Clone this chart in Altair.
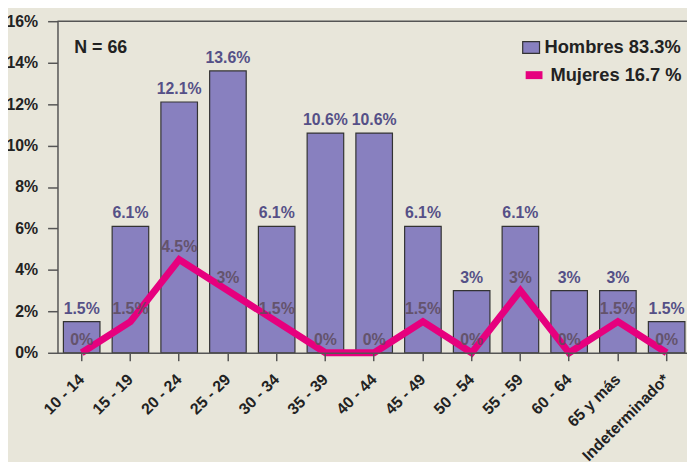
import altair as alt
import pandas as pd

categories = ["10 - 14", "15 - 19", "20 - 24", "25 - 29", "30 - 34", "35 - 39",
              "40 - 44", "45 - 49", "50 - 54", "55 - 59", "60 - 64", "65 y más",
              "Indeterminado*"]
hombres = [1.5, 6.1, 12.1, 13.6, 6.1, 10.6, 10.6, 6.1, 3, 6.1, 3, 3, 1.5]
mujeres = [0, 1.5, 4.5, 3, 1.5, 0, 0, 1.5, 0, 3, 0, 1.5, 0]
series_names = ["Hombres 83.3%", "Mujeres 16.7 %"]
y_ticks = [0, 2, 4, 6, 8, 10, 12, 14, 16]
note = "N = 66"

BG = "#e8e6da"
PURPLE = "#8880bf"
MAGENTA = "#e6007e"
FONT = "Liberation Sans"

df_h = pd.DataFrame({"cat": categories, "value": hombres,
                     "label": [f"{v:g}%" for v in hombres],
                     "serie_h": series_names[0]})
df_m = pd.DataFrame({"cat": categories, "value": mujeres,
                     "label": [f"{v:g}%" for v in mujeres],
                     "serie_m": series_names[1]})

x = alt.X("cat:N", sort=categories,
          scale=alt.Scale(paddingInner=0.25, paddingOuter=0.082, align=0.74),
          axis=alt.Axis(title=None, labelAngle=-45, labelAlign="right",
                        labelBaseline="middle", labelFontSize=16,
                        labelFontWeight="bold", labelColor="#222", labelFont=FONT,
                        tickSize=8, tickColor="#555", tickWidth=1.5,
                        domainColor="#555", domainWidth=1.5, labelPadding=16,
                        zindex=1))
y = alt.Y("value:Q", scale=alt.Scale(domain=[0, 16], nice=False),
          axis=alt.Axis(title=None, values=y_ticks, labelExpr="datum.value + '%'",
                        grid=False, tickSize=10, tickColor="#555", tickWidth=1.5,
                        domainColor="#555", domainWidth=1.5, labelFontSize=16,
                        labelFontWeight="bold", labelColor="#222", labelFont=FONT,
                        labelPadding=10))

leg_common = dict(title=None, orient="none", labelFontSize=18.5, labelFontWeight="bold",
                  labelColor="#222", labelFont=FONT, labelOffset=4, labelLimit=300)

fill = alt.Fill("serie_h:N",
                scale=alt.Scale(domain=[series_names[0]], range=[PURPLE]),
                legend=alt.Legend(legendX=469, legendY=17, symbolType="M-1,-0.7H1V0.7H-1Z",
                                  symbolSize=289, symbolStrokeColor="#333333",
                                  symbolStrokeWidth=1.2, symbolOpacity=1,
                                  **leg_common))
stroke = alt.Stroke("serie_m:N",
                    scale=alt.Scale(domain=[series_names[1]], range=[MAGENTA]),
                    legend=alt.Legend(legendX=469, legendY=42, symbolType="stroke",
                                      symbolSize=289, symbolStrokeWidth=8,
                                      **leg_common))

bars = alt.Chart(df_h).mark_bar(stroke="#333333", strokeWidth=1.2).encode(
    x=x, y=y, fill=fill)

line = alt.Chart(df_m).mark_line(strokeWidth=7, strokeJoin="miter",
                                 strokeCap="butt").encode(x=x, y=y, stroke=stroke)

bar_labels = alt.Chart(df_h).mark_text(
    baseline="bottom", dy=-5, fontSize=16, fontWeight="bold", font=FONT,
    color="#555087").encode(x=x, y=y, text="label:N")

line_labels = alt.Chart(df_m).mark_text(
    baseline="bottom", dy=-5, fontSize=16, fontWeight="bold", font=FONT,
    color="#5e4c5e", opacity=0.85).encode(x=x, y=y, text="label:N")

top_rule = alt.Chart(pd.DataFrame({"v": [y_ticks[-1]]})).mark_rule(
    color="#555", strokeWidth=1.5).encode(y=alt.Y("v:Q"))

note_text = alt.Chart(pd.DataFrame({"t": [note]})).mark_text(
    align="left", baseline="middle", fontSize=18, fontWeight="bold", font=FONT,
    color="#222").encode(x=alt.value(17), y=alt.value(27), text="t:N")

chart = alt.layer(bars, line, bar_labels, line_labels, top_rule, note_text).properties(
    width=636, height=335,
    autosize=alt.AutoSizeParams(type="none"),
    padding={"left": 50, "top": 11, "right": 0, "bottom": 108},
    background=BG,
).configure_view(stroke=None)

chart.save("out.html", embed_options={"renderer": "svg", "actions": False})
